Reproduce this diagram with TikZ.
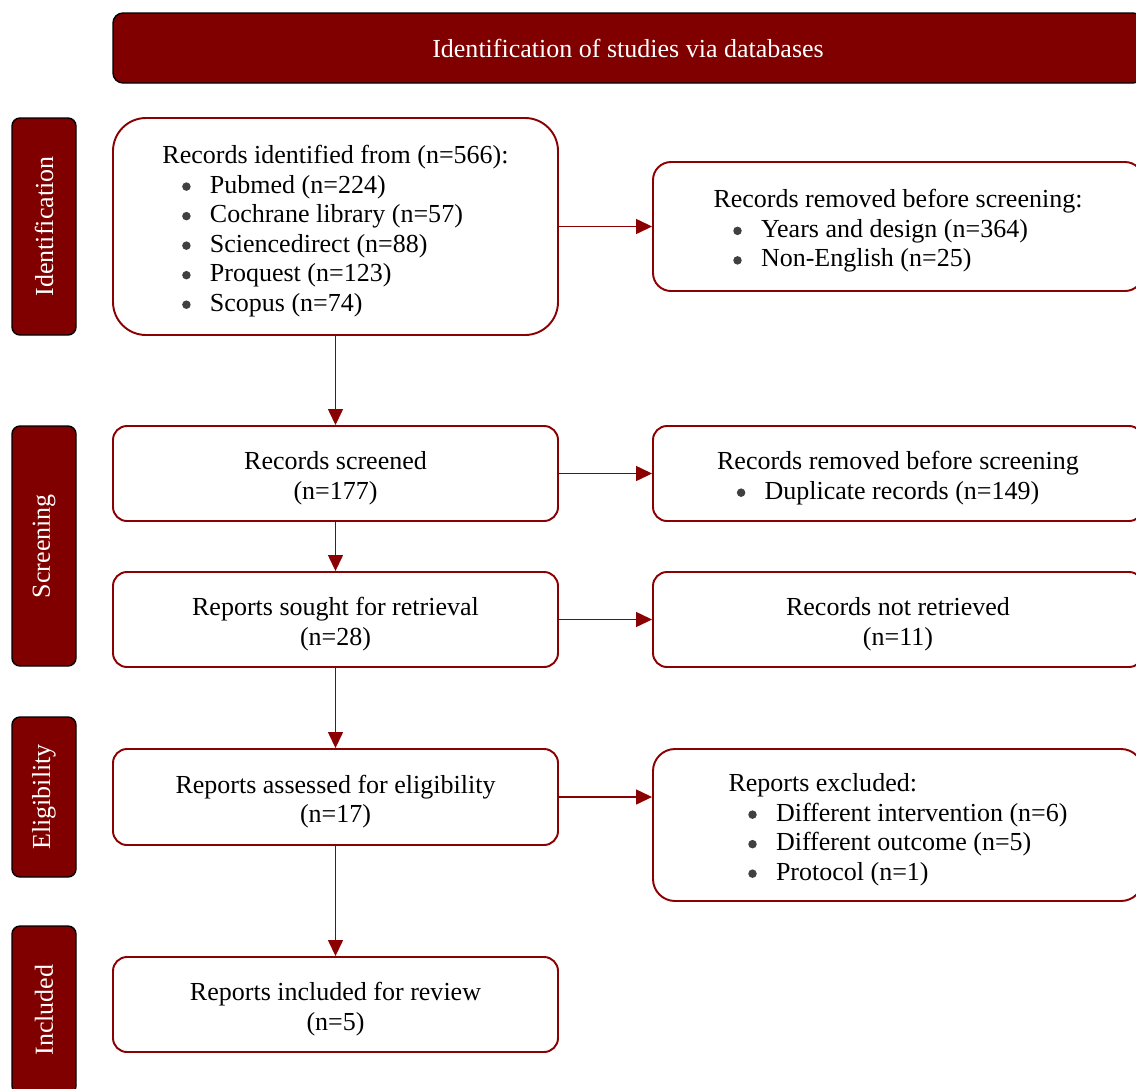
\documentclass[tikz,border=0pt]{standalone}
\usepackage{fontspec}
\setmainfont{Liberation Serif}
\usetikzlibrary{arrows.meta, positioning}
\definecolor{bannerred}{HTML}{800000}
\definecolor{edgered}{HTML}{8B0000}
\definecolor{dotgray}{HTML}{404040}
\newcommand{\listitem}[1]{\hspace*{0.395cm}\makebox[0.555cm][l]{\tikz[baseline=-0.13cm]\fill[dotgray] (0,0) circle (0.085cm);}#1}
\newcommand{\topgap}{\rule{0pt}{1.05em}}

\begin{document}
\begin{tikzpicture}[>=Stealth,
    font=\fontsize{14.8}{16.8}\selectfont,
    flowbox/.style={draw=edgered, line width=1.1pt, fill=white, rounded corners=0.28cm,
      minimum height=1.9cm, inner sep=0pt},
    leftbox/.style={flowbox, minimum width=8.9cm},
    rightbox/.style={flowbox, minimum width=9.8cm},
    phase/.style={draw=black, line width=0.8pt, fill=bannerred, text=white,
      rounded corners=0.16cm, rotate=90, minimum height=1.28cm, inner sep=0pt},
    flowarrow/.style={draw=edgered, line width=0.8pt,
      -{Triangle[length=0.32cm, width=0.3cm]}}]

  \clip (0,0) rectangle (22.72,-21.76);

  % banner
  \node[draw=black, line width=0.8pt, fill=bannerred, text=white, rounded corners=0.2cm,
    minimum width=20.6cm, minimum height=1.4cm] (banner) at (12.56,-0.96)
    {Identification of studies via databases};

  % phase labels
  \node[phase, minimum width=4.34cm] (pident) at (0.88,-4.53) {Identification};
  \node[phase, minimum width=4.8cm]  (pscreen) at (0.88,-10.92) {Screening};
  \node[phase, minimum width=3.2cm]  (pelig) at (0.88,-15.94) {Eligibility};
  \node[phase, minimum width=3.36cm] (pincl) at (0.88,-20.2) {Included};

  % left column
  \node[leftbox, rounded corners=0.66cm, minimum height=4.34cm, align=left] (ident) at (6.71,-4.53)
    {\topgap Records identified from (n=566):\\
     \listitem{Pubmed (n=224)}\\
     \listitem{Cochrane library (n=57)}\\
     \listitem{Sciencedirect (n=88)}\\
     \listitem{Proquest (n=123)}\\
     \listitem{Scopus (n=74)}};
  \node[leftbox, align=center] (screened) at (6.71,-9.47) {\topgap Records screened\\(n=177)};
  \node[leftbox, align=center] (sought) at (6.71,-12.39) {\topgap Reports sought for retrieval\\(n=28)};
  \node[leftbox, minimum height=1.92cm, align=center] (assessed) at (6.71,-15.94)
    {\topgap Reports assessed for eligibility\\(n=17)};
  \node[leftbox, align=center] (included) at (6.71,-20.09) {\topgap Reports included for review\\(n=5)};

  % right column
  \node[rightbox, rounded corners=0.36cm, minimum height=2.58cm, align=left] (removed) at (17.96,-4.53)
    {\topgap Records removed before screening:\\
     \listitem{Years and design (n=364)}\\
     \listitem{Non-English (n=25)}};
  \node[rightbox, align=left] (duplicates) at (17.96,-9.47)
    {\topgap Records removed before screening\\
     \listitem{Duplicate records (n=149)}};
  \node[rightbox, align=center] (notretrieved) at (17.96,-12.39) {\topgap Records not retrieved\\(n=11)};
  \node[rightbox, rounded corners=0.44cm, minimum height=3.04cm, align=left] (excluded) at (17.96,-16.5)
    {\topgap Reports excluded:\\
     \listitem{Different intervention (n=6)}\\
     \listitem{Different outcome (n=5)}\\
     \listitem{Protocol (n=1)}};

  % arrows
  \draw[flowarrow] (ident) -- (screened);
  \draw[flowarrow] (screened) -- (sought);
  \draw[flowarrow] (sought) -- (assessed);
  \draw[flowarrow] (assessed) -- (included);
  \draw[flowarrow] (ident.east) -- (ident.east -| removed.west);
  \draw[flowarrow] (screened.east) -- (screened.east -| duplicates.west);
  \draw[flowarrow] (sought.east) -- (sought.east -| notretrieved.west);
  \draw[flowarrow] (assessed.east) -- (assessed.east -| excluded.west);

\end{tikzpicture}
\end{document}
